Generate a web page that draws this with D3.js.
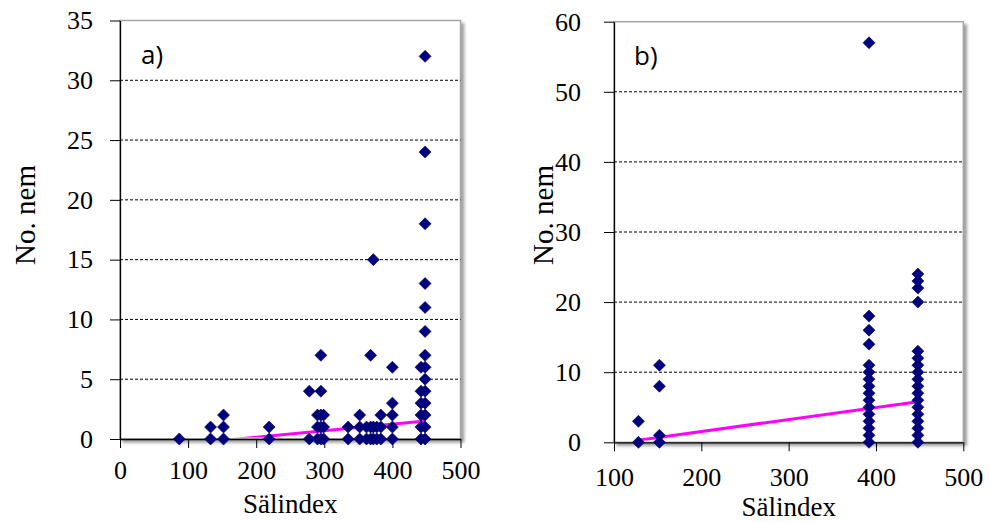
<!DOCTYPE html>
<html lang="sv">
<head>
<meta charset="UTF-8"/>
<title>No. nem vs Sälindex</title>
<script src="https://d3js.org/d3.v7.min.js"></script>
<style>
    body { margin: 0; background: #ffffff; }
</style>
</head>
<body>
<script>
    // Panel a) - x positions (Sälindex) and the counts stacked at each one
    var salA   = [87, 133, 152, 219, 278, 290, 295, 299, 335, 352, 362, 368, 372, 377, 383, 400, 442, 448];
    var nemA   = [
        [0], [0, 1], [0, 1, 2], [0, 1], [0, 4], [0, 1, 2], [0, 1, 2, 4, 7], [0, 1, 2],
        [0, 1], [0, 1, 2], [0, 1], [0, 1, 7], [0, 1, 15], [0, 1], [0, 1, 2],
        [0, 1, 2, 3, 6], [0, 1, 2, 3, 4, 6],
        [0, 1, 2, 3, 4, 5, 6, 7, 9, 11, 13, 18, 24, 32]
    ];
    var trendA = [[87, -0.47], [448, 1.5]];
    var yTicksA = [0, 5, 10, 15, 20, 25, 30, 35];
    var xTicksA = [0, 100, 200, 300, 400, 500];

    // Panel b)
    var salB   = [128, 152, 392, 448];
    var nemB   = [
        [0, 3],
        [0, 1, 8, 11],
        [0, 1, 2, 3, 4, 5, 6, 7, 8, 9, 10, 11, 14, 16, 18, 57],
        [0, 1, 2, 3, 4, 5, 6, 7, 8, 9, 10, 11, 12, 13, 20, 22, 23, 24]
    ];
    var trendB = [[128, 0.3], [448, 5.8]];
    var yTicksB = [0, 10, 20, 30, 40, 50, 60];
    var xTicksB = [100, 200, 300, 400, 500];

    var w = 991;
    var h = 522;
    var SERIF = "Liberation Serif";

    var svg = d3.select("body")
                .append("svg")
                .attr("width", w)
                .attr("height", h);

    // soft grey shadow behind each plot area (Excel style)
    var defs = svg.append("defs");
    defs.append("filter")
        .attr("id", "shadow")
        .attr("x", "-5%").attr("y", "-5%")
        .attr("width", "115%").attr("height", "115%")
        .append("feDropShadow")
        .attr("dx", 3).attr("dy", 3)
        .attr("stdDeviation", 1.6)
        .attr("flood-color", "#777")
        .attr("flood-opacity", 0.7);

    function drawPanel(p) {
        var xScale = d3.scaleLinear()
                       .domain(p.xDomain)
                       .range([p.left, p.right]);
        var yScale = d3.scaleLinear()
                       .domain(p.yDomain)
                       .range([p.bottom, p.top]);

        var g = svg.append("g");

        // plot area with grey border + shadow
        g.append("rect")
         .attr("x", p.left)
         .attr("y", p.top)
         .attr("width", p.right - p.left)
         .attr("height", p.bottom - p.top)
         .attr("fill", "#fff")
         .attr("stroke", "#a6a6a6")
         .attr("stroke-width", 1.5)
         .attr("filter", "url(#shadow)");

        // dashed gridlines
        g.selectAll("line.grid")
         .data(p.yTicks.filter(function(d) { return d > 0 && d < p.yDomain[1]; }))
         .enter()
         .append("line")
         .attr("class", "grid")
         .attr("x1", p.left)
         .attr("x2", p.right)
         .attr("y1", function(d) { return yScale(d); })
         .attr("y2", function(d) { return yScale(d); })
         .attr("stroke", "#000")
         .attr("stroke-width", 1)
         .attr("stroke-dasharray", "3,2");

        // clip for the trend line (stops where it dips under the x axis)
        defs.append("clipPath")
            .attr("id", "clip" + p.name)
            .append("rect")
            .attr("x", p.left)
            .attr("y", p.top)
            .attr("width", p.right - p.left)
            .attr("height", p.bottom - p.top - 1.5);

        // flatten columns into points
        var pts = [];
        p.sal.forEach(function(s, i) {
            p.nem[i].forEach(function(v) { pts.push([s, v]); });
        });

        // linear trend line
        g.append("path")
         .datum(p.trend)
         .attr("clip-path", "url(#clip" + p.name + ")")
         .attr("fill", "none")
         .attr("stroke", "#ff00ff")
         .attr("stroke-width", 3)
         .attr("d", d3.line()
                      .x(function(d) { return xScale(d[0]); })
                      .y(function(d) { return yScale(d[1]); }));

        // axes
        var yAxis = d3.axisLeft(yScale)
                      .tickValues(p.yTicks)
                      .tickSize(10)
                      .tickSizeOuter(0)
                      .tickPadding(p.yPad);
        var ya = g.append("g")
                  .attr("transform", "translate(" + p.left + ",0)")
                  .call(yAxis);

        var xAxis = d3.axisBottom(xScale)
                      .tickValues(p.xTicks)
                      .tickSize(9)
                      .tickSizeOuter(0);
        var xa = g.append("g")
                  .attr("transform", "translate(0," + p.bottom + ")")
                  .call(xAxis);
        xa.selectAll(".tick text")
          .attr("y", p.xLabelY)
          .attr("dy", "0.35em");

        [ya, xa].forEach(function(ax) {
            ax.attr("font-family", SERIF).attr("font-size", 26);
            ax.select(".domain").attr("stroke", "#000").attr("stroke-width", 1.3);
            ax.selectAll(".tick line").attr("stroke", "#000");
            ax.selectAll(".tick text")
              .style("font-family", SERIF)
              .style("font-size", "26px")
              .attr("fill", "#000");
        });

        // diamonds (drawn on top of the axis line like Excel)
        g.selectAll("path.pt")
         .data(pts)
         .enter()
         .append("path")
         .attr("class", "pt")
         .attr("d", d3.symbol().type(d3.symbolSquare).size(72))
         .attr("transform", function(d) {
             return "translate(" + xScale(d[0]) + "," + yScale(d[1]) + ") rotate(45)";
         })
         .attr("fill", "#000080")
         .attr("stroke", "#00005a")
         .attr("stroke-width", 0.6);

        // axis titles
        g.append("text")
         .attr("x", (p.left + p.right) / 2)
         .attr("y", p.xTitleY)
         .attr("text-anchor", "middle")
         .style("font-family", SERIF)
         .style("font-size", "27px")
         .text("Sälindex");

        g.append("text")
         .attr("transform", "translate(" + p.yTitleX + "," + p.yTitleMid + ") rotate(-90)")
         .attr("text-anchor", "middle")
         .style("font-family", SERIF)
         .style("font-size", "29px")
         .text("No. nem");

        // panel tag
        g.append("text")
         .attr("x", p.tagX)
         .attr("y", p.tagY)
         .style("font-family", "Open Sans")
         .style("font-size", "26px")
         .text(p.name + ")");
    }

    drawPanel({
        name: "a", sal: salA, nem: nemA, trend: trendA,
        xDomain: [0, 500], yDomain: [0, 35], xTicks: xTicksA, yTicks: yTicksA,
        left: 120, right: 460.5, top: 20.5, bottom: 439,
        yPad: 17, xLabelY: 31, xTitleY: 513, yTitleX: 35, yTitleMid: 215,
        tagX: 141, tagY: 64
    });

    drawPanel({
        name: "b", sal: salB, nem: nemB, trend: trendB,
        xDomain: [100, 500], yDomain: [0, 60], xTicks: xTicksB, yTicks: yTicksB,
        left: 614, right: 963.3, top: 21.7, bottom: 442.3,
        yPad: 23, xLabelY: 35, xTitleY: 516, yTitleX: 553, yTitleMid: 215,
        tagX: 634, tagY: 65
    });
</script>
</body>
</html>
